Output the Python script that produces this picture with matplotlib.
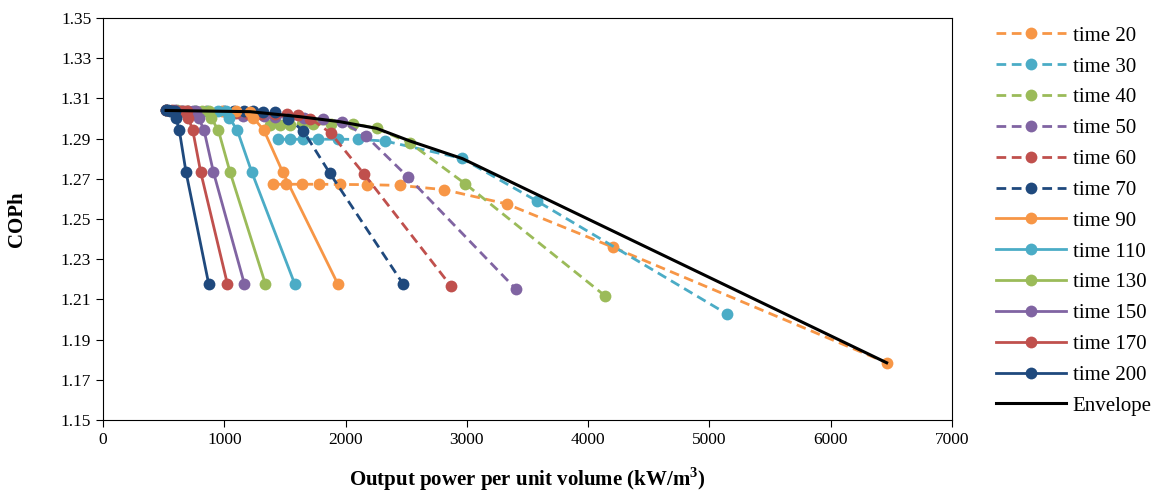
import matplotlib.pyplot as plt
import matplotlib.ticker as ticker
import numpy as np

plt.rcParams['font.family'] = ['Liberation Serif', 'DejaVu Serif']

# 数据 (x: output power per unit volume, y: COPh)
x_t20 = [1399, 1509, 1638, 1781, 1954, 2174, 2449, 2812, 3328, 4207, 6461]
y_t20 = [1.2673, 1.2673, 1.2673, 1.2673, 1.2672, 1.2671, 1.2667, 1.2646, 1.2575, 1.2359, 1.1785]

x_t30 = [1445, 1542, 1651, 1775, 1940, 2105, 2325, 2957, 3576, 5141]
y_t30 = [1.2897, 1.2897, 1.2897, 1.2897, 1.2897, 1.2896, 1.2888, 1.2802, 1.2590, 1.2029]

x_t40 = [1377, 1459, 1542, 1640, 1734, 1880, 2063, 2256, 2531, 2985, 4139]
y_t40 = [1.2968, 1.2969, 1.2970, 1.2971, 1.2972, 1.2974, 1.2975, 1.2951, 1.2878, 1.2676, 1.2118]

x_t50 = [1150, 1240, 1330, 1420, 1530, 1660, 1816, 1968, 2168, 2512, 3405]
y_t50 = [1.3012, 1.3011, 1.3010, 1.3009, 1.3007, 1.3004, 1.2998, 1.2984, 1.2913, 1.2710, 1.2151]

x_t60 = [1100, 1200, 1300, 1420, 1514, 1610, 1710, 1876, 2152, 2869]
y_t60 = [1.3025, 1.3024, 1.3023, 1.3022, 1.3021, 1.3017, 1.3000, 1.2928, 1.2724, 1.2166]

x_t70 = [1000, 1080, 1160, 1240, 1320, 1420, 1528, 1651, 1871, 2475]
y_t70 = [1.3036, 1.3036, 1.3035, 1.3035, 1.3034, 1.3030, 1.2999, 1.2938, 1.2727, 1.2176]

x_t90 = [520, 700, 850, 980, 1100, 1212, 1239, 1327, 1481, 1935]
y_t90 = [1.3040, 1.3039, 1.3038, 1.3037, 1.3036, 1.3034, 1.3004, 1.2941, 1.2734, 1.2178]

x_t110 = [520, 650, 760, 860, 950, 1010, 1041, 1107, 1226, 1580]
y_t110 = [1.3040, 1.3039, 1.3039, 1.3038, 1.3037, 1.3036, 1.3004, 1.2941, 1.2734, 1.2178]

x_t130 = [520, 610, 690, 760, 820, 870, 890, 951, 1047, 1338]
y_t130 = [1.3040, 1.3040, 1.3039, 1.3038, 1.3037, 1.3036, 1.3004, 1.2941, 1.2734, 1.2178]

x_t150 = [520, 590, 650, 700, 740, 770, 788, 833, 910, 1165]
y_t150 = [1.3040, 1.3040, 1.3039, 1.3038, 1.3037, 1.3036, 1.3004, 1.2941, 1.2734, 1.2178]

x_t170 = [520, 570, 610, 645, 670, 690, 703, 740, 805, 1025]
y_t170 = [1.3040, 1.3040, 1.3039, 1.3038, 1.3037, 1.3036, 1.3004, 1.2941, 1.2734, 1.2178]

x_t200 = [520, 535, 550, 565, 578, 590, 600, 629, 684, 871]
y_t200 = [1.3040, 1.3040, 1.3039, 1.3039, 1.3038, 1.3037, 1.3004, 1.2941, 1.2734, 1.2178]

x_env = [520, 1212, 1624, 1954, 2256, 2531, 2965, 6461]
y_env = [1.3040, 1.3034, 1.3009, 1.2984, 1.2951, 1.2888, 1.2800, 1.1785]

series = [
    ('time 20', x_t20, y_t20, '#F79646', '--'),
    ('time 30', x_t30, y_t30, '#4BACC6', '--'),
    ('time 40', x_t40, y_t40, '#9BBB59', '--'),
    ('time 50', x_t50, y_t50, '#8064A2', '--'),
    ('time 60', x_t60, y_t60, '#C0504D', '--'),
    ('time 70', x_t70, y_t70, '#1F497D', '--'),
    ('time 90', x_t90, y_t90, '#F79646', '-'),
    ('time 110', x_t110, y_t110, '#4BACC6', '-'),
    ('time 130', x_t130, y_t130, '#9BBB59', '-'),
    ('time 150', x_t150, y_t150, '#8064A2', '-'),
    ('time 170', x_t170, y_t170, '#C0504D', '-'),
    ('time 200', x_t200, y_t200, '#1F497D', '-'),
]

fig = plt.figure(figsize=(11.59, 4.93), dpi=100)
ax = fig.add_axes([0.0889, 0.148, 0.7325, 0.8155])

for name, xs, ys, c, ls in series:
    line, = ax.plot(xs, ys, ls, color=c, lw=2, marker='o', markersize=8.5,
                    markeredgewidth=0, label=name)
    if ls == '--':
        line.set_dashes((3.5, 2))

ax.plot(x_env, y_env, '-', color='black', lw=2.2, label='Envelope')

ax.set_xlim(0, 7000)
ax.set_ylim(1.15, 1.35)
ax.xaxis.set_major_locator(ticker.MultipleLocator(1000))
ax.set_yticks(np.round(np.arange(1.15, 1.351, 0.02), 2))
ax.yaxis.set_major_formatter(ticker.FormatStrFormatter('%.2f'))
ax.tick_params(labelsize=12.5, direction='out', length=5)

ax.set_xlabel('Output power per unit volume (kW/m$^\\mathregular{3}$)',
              fontsize=15, fontweight='bold', labelpad=13)
ax.set_ylabel('COPh', fontsize=15, fontweight='bold', labelpad=24)

ax.legend(loc='upper left', bbox_to_anchor=(0.843, 0.985),
          bbox_transform=fig.transFigure, frameon=False, fontsize=15,
          handlelength=3.36, labelspacing=0.54, handletextpad=0.34)

fig.savefig('out.png', dpi=100)
